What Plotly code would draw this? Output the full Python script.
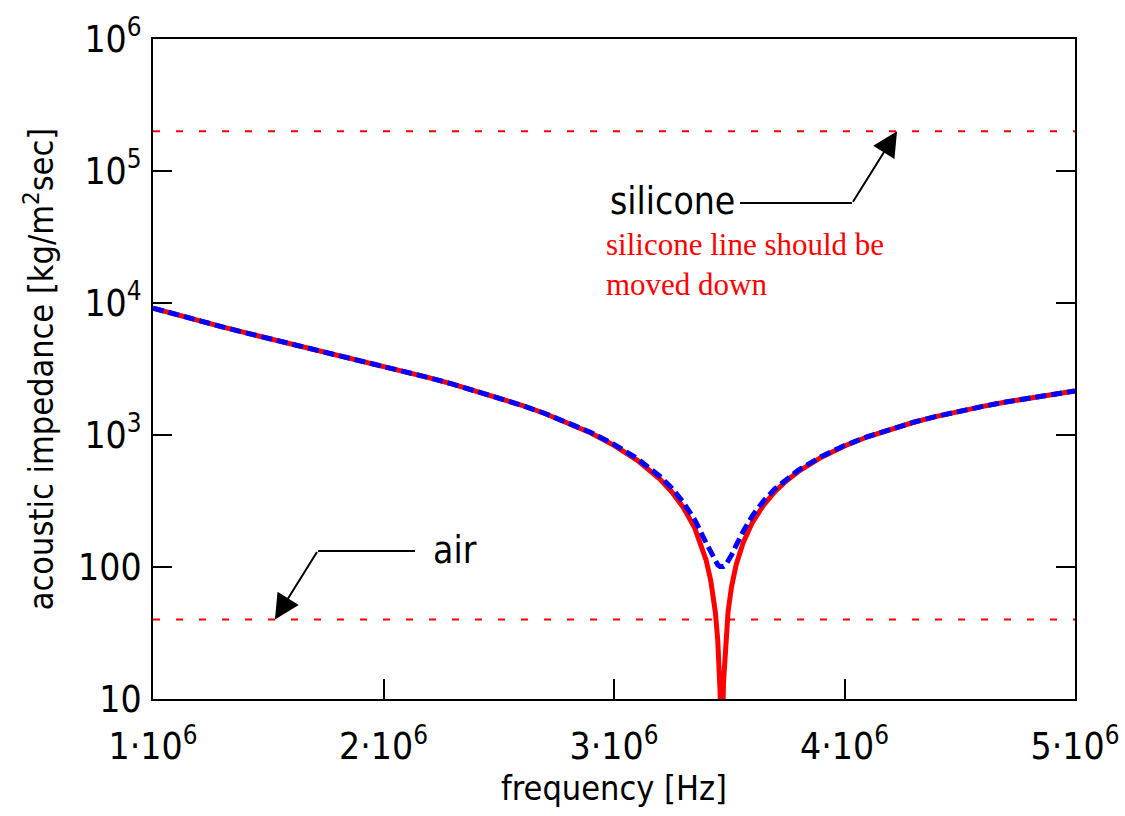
import plotly.graph_objects as go

# frequency in MHz (converted to Hz below)
freq_mhz = [1.0, 1.1, 1.2, 1.3, 1.4, 1.5, 1.6, 1.7, 1.8, 1.9, 2.0, 2.1, 2.2, 2.3, 2.4,
            2.5, 2.6, 2.7, 2.8, 2.9, 3.0, 3.1, 3.2, 3.25, 3.3, 3.35, 3.4, 3.42, 3.44,
            3.45, 3.46, 3.467, 3.475, 3.485, 3.495, 3.51, 3.53, 3.56, 3.6, 3.65, 3.7,
            3.75, 3.8, 3.9, 4.0, 4.1, 4.2, 4.3, 4.4, 4.5, 4.6, 4.7, 4.8, 4.9, 5.0]

impedance_undamped = [9150, 8160, 7320, 6600, 5960, 5410, 4910, 4460, 4050, 3670, 3330,
                      3010, 2710, 2430, 2165, 1915, 1680, 1455, 1240, 1035, 835, 645, 462,
                      372, 284, 198, 112, 78.5, 45, 28, 11.6, 3, 13.3, 30, 46, 71, 104,
                      152, 217, 296, 375, 452, 529, 679, 826, 970, 1111, 1249, 1385, 1518,
                      1649, 1778, 1905, 2031, 2155]

impedance_damped = [9150, 8160, 7320, 6600, 5960, 5410, 4910, 4460, 4050, 3670, 3330,
                    3010, 2710, 2430, 2165, 1915, 1680, 1455, 1240, 1045, 850, 665, 485,
                    398, 310, 228, 152, 128, 110, 104, 101, 100, 101, 104, 110, 123, 146,
                    186, 244, 318, 394, 468, 542, 688, 832, 972, 1112, 1250, 1385, 1518,
                    1649, 1778, 1905, 2031, 2155]

silicone_level = 2.0e5
air_level = 40
line_x = [1.0e6, 5.0e6]

y_tick_vals = [10, 100, 1e3, 1e4, 1e5, 1e6]
y_tick_text = ["10", "100", "10<sup>3</sup>", "10<sup>4</sup>", "10<sup>5</sup>", "10<sup>6</sup>"]
x_tick_vals = [1e6, 2e6, 3e6, 4e6, 5e6]
x_tick_text = ["1·10<sup>6</sup>", "2·10<sup>6</sup>", "3·10<sup>6</sup>",
               "4·10<sup>6</sup>", "5·10<sup>6</sup>"]

freq_hz = [f * 1e6 for f in freq_mhz]

FONT = "Liberation Sans Narrow, DejaVu Sans Condensed, Arial Narrow, sans-serif"
RED = "#ff0000"
BLUE = "#0000ff"

fig = go.Figure()
fig.add_trace(go.Scatter(x=line_x, y=[silicone_level] * 2, mode="lines",
                         line=dict(color=RED, width=2, dash="7px,16px"), hoverinfo="skip"))
fig.add_trace(go.Scatter(x=line_x, y=[air_level] * 2, mode="lines",
                         line=dict(color=RED, width=2, dash="7px,16px"), hoverinfo="skip"))
fig.add_trace(go.Scatter(x=freq_hz, y=impedance_undamped, mode="lines",
                         line=dict(color=RED, width=5)))
fig.add_trace(go.Scatter(x=freq_hz, y=impedance_damped, mode="lines",
                         line=dict(color=BLUE, width=5, dash="11px,5px")))

axis_common = dict(showgrid=False, zeroline=False, showline=True, linecolor="black",
                   linewidth=2, ticks="inside", tickcolor="black", tickwidth=2,
                   automargin=False,
                   tickfont=dict(family=FONT, size=37, color="black"))

fig.update_xaxes(range=[1e6, 5e6], tickvals=x_tick_vals, ticktext=x_tick_text,
                 ticklen=20, mirror=True, ticklabelstandoff=14,
                 title=dict(text="frequency [Hz]", font=dict(family=FONT, size=34, color="black"),
                            standoff=8),
                 **axis_common)
fig.update_yaxes(type="log", range=[1, 6], tickvals=y_tick_vals, ticktext=y_tick_text,
                 ticklen=19, mirror="ticks", ticklabelstandoff=2,
                 title=dict(text="acoustic impedance [kg/m<sup>2</sup>sec]",
                            font=dict(family=FONT, size=34, color="black"), standoff=14),
                 **axis_common)

# leader lines for labels
fig.add_shape(type="line", xref="paper", yref="paper", x0=0.6367, x1=0.7581,
              y0=0.7515, y1=0.7515, line=dict(color="black", width=2))
fig.add_shape(type="line", xref="paper", yref="paper", x0=0.179, x1=0.2842,
              y0=0.2242, y1=0.2242, line=dict(color="black", width=2))

# arrows
fig.add_annotation(x=4.228e6, y=5.301, xref="x", yref="y", ax=-45, ay=72, text="",
                   showarrow=True, arrowhead=2, arrowsize=2.5, arrowwidth=2, arrowcolor="black")
fig.add_annotation(x=1.529e6, y=1.602, xref="x", yref="y", ax=43, ay=-69, text="",
                   showarrow=True, arrowhead=2, arrowsize=2.5, arrowwidth=2, arrowcolor="black")

# labels
fig.add_annotation(x=(672 - 153) / 922, y=(699 - 201) / 660, xref="paper", yref="paper",
                   text="silicone", showarrow=False, xanchor="center", yanchor="middle",
                   font=dict(family=FONT, size=37, color="black"))
fig.add_annotation(x=(455 - 153) / 922, y=(699 - 550) / 660, xref="paper", yref="paper",
                   text="air", showarrow=False, xanchor="center", yanchor="middle",
                   font=dict(family=FONT, size=37, color="black"))
fig.add_annotation(x=(604 - 153) / 922, y=(699 - 264) / 660, xref="paper", yref="paper",
                   text="silicone line should be<br>moved down", showarrow=False,
                   xanchor="left", yanchor="middle", align="left",
                   font=dict(family="Liberation Serif, Times New Roman, serif", size=31, color=RED))

fig.update_layout(width=1125, height=816, showlegend=False,
                  margin=dict(l=153, r=50, t=39, b=117),
                  paper_bgcolor="white", plot_bgcolor="white")

fig.write_html("out.html")
